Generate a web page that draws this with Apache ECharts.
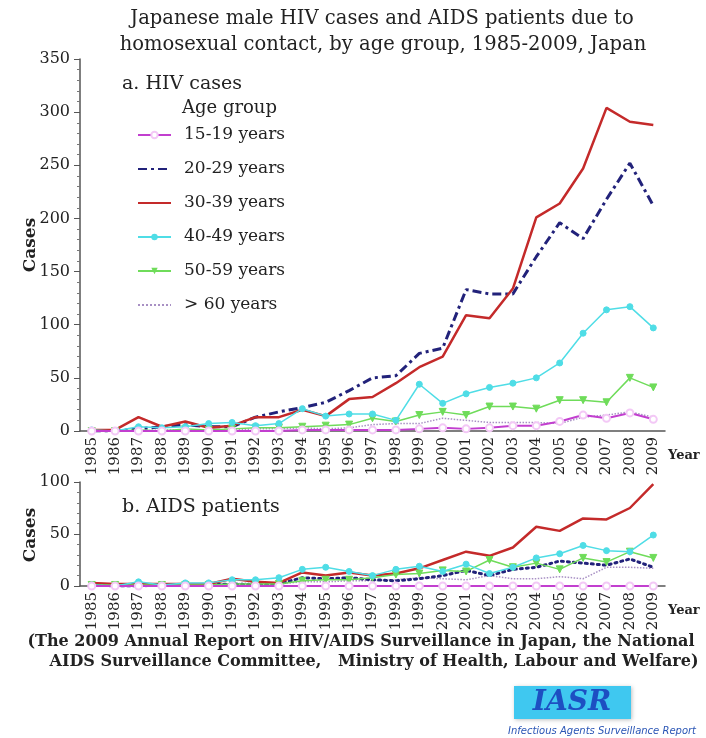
<!DOCTYPE html>
<html>
<head>
<meta charset="utf-8">
<script src="https://cdn.jsdelivr.net/npm/echarts@6/dist/echarts.min.js"></script>
<style>
  html, body { margin: 0; padding: 0; background: #ffffff; }
  #chart { width: 706px; height: 738px; }
</style>
</head>
<body>
<div id="chart"></div>
<script>
// Report years (x axis categories)
const years = ['1985','1986','1987','1988','1989','1990','1991','1992','1993','1994','1995','1996',
               '1997','1998','1999','2000','2001','2002','2003','2004','2005','2006','2007','2008','2009'];

// Age groups
const ageGroups = ['15-19 years', '20-29 years', '30-39 years', '40-49 years', '50-59 years', '> 60 years'];

// a. HIV cases by age group
const hiv15to19 = [0,0,0,0,0,0,0,0,0,1,1,1,1,1,2,3,2,3,5,5,9,15,12,17,11];
const hiv20to29 = [0,0,2,4,6,4,4,13,18,22,27,38,50,52,73,78,133,129,129,164,196,181,218,252,212];
const hiv30to39 = [1,1,13,4,9,3,5,13,13,20,14,30,32,45,60,70,109,106,134,201,214,247,304,291,288];
const hiv40to49 = [1,0,4,3,4,7,8,5,7,21,14,16,16,10,44,26,35,41,45,50,64,92,114,117,97];
const hiv50to59 = [0,0,1,0,2,1,2,3,3,4,5,6,12,9,15,18,15,23,23,21,29,29,27,50,41];
const hiv60plus = [0,0,0,1,1,1,1,2,2,3,2,3,6,7,7,12,10,8,8,8,7,13,15,18,13];

// b. AIDS patients by age group
const aids15to19 = [0,0,0,0,0,0,0,0,0,0,0,0,0,0,0,0,0,0,0,0,0,0,0,0,0];
const aids20to29 = [1,0,0,1,1,1,2,1,2,8,7,8,6,5,7,10,15,10,16,18,24,22,20,26,18];
const aids30to39 = [3,2,2,2,2,2,7,4,3,13,10,13,10,12,17,25,33,29,37,57,53,65,64,75,98];
const aids40to49 = [1,0,4,1,3,3,6,6,8,16,18,14,10,16,19,14,21,12,18,27,31,39,34,33,49];
const aids50to59 = [1,1,1,1,1,1,2,2,2,5,6,6,8,11,12,15,14,25,18,22,16,27,23,33,27];
const aids60plus = [1,1,1,1,2,2,2,3,2,4,4,5,5,6,8,7,6,10,7,7,9,7,18,18,17];

// Y axis ticks
const hivTicks = [0, 50, 100, 150, 200, 250, 300, 350];
const aidsTicks = [0, 50, 100];

const SERIF = '"DejaVu Serif", "Liberation Serif", serif';
const INK = '#222222';

// Line look for each age group
const looks = [
  { color: '#c23fcf', lineStyle: { width: 2 }, symbol: 'emptyCircle', symbolSize: 7, itemStyle: { borderWidth: 1.5 } },
  { color: '#22227a', lineStyle: { width: 3, type: [9, 4, 3, 4] }, symbol: 'none' },
  { color: '#c42a2a', lineStyle: { width: 2.5 }, symbol: 'none' },
  { color: '#4fdde6', lineStyle: { width: 1.5 }, symbol: 'circle', symbolSize: 6 },
  { color: '#6fdc5a', lineStyle: { width: 1.5 }, symbol: 'triangle', symbolRotate: 180, symbolSize: 7 },
  { color: '#a890c4', lineStyle: { width: 1.5, type: 'dotted' }, symbol: 'none' }
];
const zOrder = [6, 3, 4, 5, 4, 2];

function lineSeries(idx, data, gridIdx) {
  const look = looks[idx];
  const s = {
    type: 'line',
    name: ageGroups[idx],
    data: data,
    xAxisIndex: gridIdx,
    yAxisIndex: gridIdx,
    color: look.color,
    symbol: look.symbol,
    symbolSize: look.symbolSize || 4,
    symbolRotate: look.symbolRotate || 0,
    showSymbol: look.symbol !== 'none',
    lineStyle: Object.assign({ color: look.color }, look.lineStyle),
    itemStyle: Object.assign({ color: look.symbol === 'emptyCircle' ? '#f3c8f6' : look.color, borderColor: look.color }, look.itemStyle || {}),
    z: zOrder[idx],
    emphasis: { disabled: true }
  };
  if (gridIdx === 1 && idx === 1) {
    s.lineStyle = { color: look.color, width: 3, type: [2, 4], cap: 'round' };
  }
  return s;
}

function xAxisFor(gridIdx) {
  return {
    type: 'category',
    gridIndex: gridIdx,
    data: years,
    boundaryGap: true,
    axisLine: { lineStyle: { color: '#555', width: 1.5 } },
    axisTick: { alignWithLabel: true, length: 5, lineStyle: { color: '#555' } },
    axisLabel: { rotate: 90, margin: 6, fontFamily: SERIF, fontSize: 15, color: INK }
  };
}

function yAxisFor(gridIdx, ticks) {
  return {
    type: 'value',
    gridIndex: gridIdx,
    min: ticks[0],
    max: ticks[ticks.length - 1],
    interval: ticks[1] - ticks[0],
    axisLine: { show: true, lineStyle: { color: '#555', width: 1.5 } },
    axisTick: { show: true, length: 6, lineStyle: { color: '#555' } },
    minorTick: { show: true, splitNumber: 5, length: 3, lineStyle: { color: '#777' } },
    axisLabel: { margin: 10, fontFamily: SERIF, fontSize: 16, color: INK },
    splitLine: { show: false }
  };
}

function label(text, x, y, font, align) {
  return {
    type: 'text', x: x, y: y,
    style: { text: text, font: font, fill: INK, textAlign: align || 'left', textVerticalAlign: 'middle' }
  };
}

function sideLabel(text, x, y) {
  return {
    type: 'text', x: x, y: y, rotation: Math.PI / 2,
    style: { text: text, font: 'bold 17px ' + SERIF, fill: INK, textAlign: 'center', textVerticalAlign: 'middle' }
  };
}

const series = [
  lineSeries(0, hiv15to19, 0), lineSeries(1, hiv20to29, 0), lineSeries(2, hiv30to39, 0),
  lineSeries(3, hiv40to49, 0), lineSeries(4, hiv50to59, 0), lineSeries(5, hiv60plus, 0),
  lineSeries(0, aids15to19, 1), lineSeries(1, aids20to29, 1), lineSeries(2, aids30to39, 1),
  lineSeries(3, aids40to49, 1), lineSeries(4, aids50to59, 1), lineSeries(5, aids60plus, 1)
];

// Legend entries: groups drawn without markers show only their line
const legendEntries = ageGroups.map(function (name, i) {
  return looks[i].symbol === 'none' ? { name: name, itemStyle: { opacity: 0 } } : { name: name };
});

const chart = echarts.init(document.getElementById('chart'), null, { renderer: 'canvas' });
chart.setOption({
  animation: false,
  backgroundColor: '#ffffff',
  grid: [
    { left: 80, top: 59, width: 585, height: 372 },
    { left: 80, top: 482, width: 585, height: 104 }
  ],
  xAxis: [xAxisFor(0), xAxisFor(1)],
  yAxis: [yAxisFor(0, hivTicks), yAxisFor(1, aidsTicks)],
  legend: {
    data: legendEntries,
    orient: 'vertical',
    left: 137,
    top: 126,
    padding: 0,
    itemWidth: 33,
    itemHeight: 8,
    itemGap: 16,
    selectedMode: false,
    textStyle: { fontFamily: SERIF, fontSize: 17, color: INK, lineHeight: 18, padding: [0, 0, 0, 8] }
  },
  series: series,
  graphic: [
    label('Japanese male HIV cases and AIDS patients due to', 382, 19, '19.5px ' + SERIF, 'center'),
    label('homosexual contact, by age group, 1985-2009, Japan', 383, 45, '19.5px ' + SERIF, 'center'),
    label('a. HIV cases', 122, 84, '19px ' + SERIF),
    label('Age group', 182, 108, '18px ' + SERIF),
    label('Year', 668, 456, 'bold 13px ' + SERIF),
    label('b. AIDS patients', 122, 507, '19px ' + SERIF),
    label('Year', 668, 611, 'bold 13px ' + SERIF),
    sideLabel('Cases', 31, 245),
    sideLabel('Cases', 31, 535),
    label('(The 2009 Annual Report on HIV/AIDS Surveillance in Japan, the National', 361, 642, 'bold 16px ' + SERIF, 'center'),
    label('AIDS Surveillance Committee,   Ministry of Health, Labour and Welfare)', 374, 662, 'bold 16px ' + SERIF, 'center'),
    {
      type: 'rect',
      shape: { x: 514, y: 686, width: 117, height: 33 },
      style: { fill: '#3fc8f0', shadowBlur: 4, shadowColor: 'rgba(0,0,0,0.25)', shadowOffsetX: 1, shadowOffsetY: 1 }
    },
    {
      type: 'text', x: 572, y: 703,
      style: { text: 'IASR', font: 'italic bold 28px ' + SERIF, fill: '#1d4fc2', textAlign: 'center', textVerticalAlign: 'middle' }
    },
    {
      type: 'text', x: 602, y: 731,
      style: { text: 'Infectious Agents Surveillance Report', font: 'italic 10px "DejaVu Sans", sans-serif', fill: '#2a55b5', textAlign: 'center', textVerticalAlign: 'middle' }
    }
  ]
});
</script>
</body>
</html>
